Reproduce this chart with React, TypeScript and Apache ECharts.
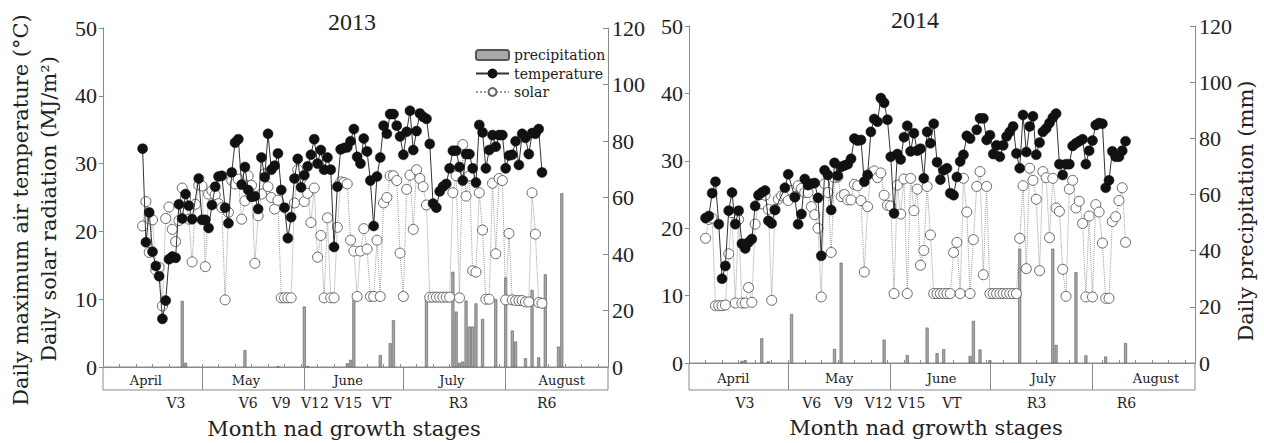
import React, { useEffect, useRef } from "react";
import * as echarts from "echarts";

const DAY_MAX = 153;
const monthNames = ["April", "May", "June", "July", "August"];
const monthEdges = [30, 61, 91, 122];
const monthLabelDays13 = [13, 43.3, 74.3, 105.7, 139];
const monthLabelDays14 = [13.4, 45.4, 76.4, 107.1, 141.2];
const stageNames = ["V3", "V6", "V9", "V12", "V15", "VT", "R3", "R6"];
const stageDays13 = [22.1, 44, 54, 64.2, 74.3, 84.4, 107.7, 134.4];
const stageDays14 = [16.9, 37.1, 46.7, 57.3, 67.3, 79.5, 105.1, 132.3];
const leftTicks = [0, 10, 20, 30, 40, 50];
const rightTicks = [0, 20, 40, 60, 80, 100, 120];

// 2013 (day 0 = 1 April)
const tempStart13 = 12;
const temp13 = [
  32.2, 18.4, 22.8, 17.0, 14.9, 13.4, 7.1, 9.8, 15.9, 16.3,
  16.1, 24.0, 21.9, 25.5, 23.8, 21.8, null, 27.8, 21.7, 21.7,
  20.5, 23.9, 26.6, 28.1, 28.2, 23.5, 21.2, 28.7, 33.1, 33.6,
  26.9, 29.5, 26.1, 25.1, 25.2, 23.3, 30.9, 28.0, 34.4, 29.1,
  29.7, 31.5, 26.1, 23.5, 19.0, 22.1, 27.8, 30.7, 26.5, 28.3,
  29.6, 31.3, 33.6, 30.0, 32.0, 29.1, 30.9, 29.1, 17.7, 26.6,
  32.1, 32.3, 32.4, 33.3, 35.1, 31.0, 30.0, 33.7, 31.8, 27.5,
  20.8, 28.1, 30.9, 35.6, 34.4, 37.3, 37.3, 35.6, 34.0, 31.3,
  34.7, 37.8, 32.0, 34.8, 37.4, 36.9, 36.6, 32.9, 24.1, 23.5,
  25.9, 26.6, 27.0, 29.3, 31.9, 31.9, 29.5, 27.5, 31.4, 31.4,
  29.3, 27.2, 35.7, 34.6, 29.3, 32.0, 34.2, 32.5, 34.2, 34.2,
  29.3, 31.2, 31.3, 33.3, 29.8, 34.4, 33.8, 31.4, 34.5, 34.4,
  35.1, 28.7,
];
const solarStart13 = 12;
const solar13 = [
  20.8, 24.4, 16.9, 21.7, 14.3, 14.7, 9.0, 21.9, 23.6, 20.3,
  18.5, 21.6, 26.4, 24.9, 21.8, 15.5, 24.0, 26.8, 26.7, 14.8,
  25.5, 26.0, 25.4, 24.1, 23.5, 9.9, 22.8, 27.5, 27.0, 27.7,
  21.8, 24.5, 28.2, 26.8, 15.3, 22.3, 25.5, 28.5, 26.6, 25.0,
  23.3, 24.6, 10.2, 10.2, 10.2, 10.2, 24.2, 29.1, 27.7, 24.4,
  25.6, 21.3, 26.4, 16.2, 19.4, 10.2, 22.0, 10.2, 10.2, 20.6,
  27.3, 27.2, 27.0, 18.7, 17.1, 10.4, 17.1, 20.4, 17.4, 10.4,
  10.4, 18.7, 10.4, 24.2, 25.0, 28.2, 28.2, 27.5, 16.8, 10.4,
  26.2, 28.3, 20.3, 29.1, 27.8, 26.6, 23.9, 10.3, 10.3, 10.3,
  10.3, 10.3, 10.3, 10.3, 25.7, 28.2, 10.2, 32.8, 25.2, 28.2,
  14.2, 14.0, 25.7, 20.2, 10.0, 10.0, 27.1, 16.7, 27.8, 27.5,
  9.9, 19.7, 9.9, 9.8, 9.8, 9.8, 9.6, 9.6, 25.7, 19.6,
  9.5, 9.4,
];
const precipDays13 = [24, 25, 43, 53, 61, 62, 74, 75, 76, 84, 87, 88, 98, 106, 107, 108, 109, 110, 111, 112, 113, 115, 119, 122, 124, 125, 128, 130, 132, 134, 138, 139];
const precipMm13 = [23.4, 1.5, 6.0, 0.3, 21.4, 0.3, 1.3, 2.5, 23.7, 4.2, 8.4, 16.6, 24.3, 33.7, 19.6, 1.5, 1.9, 23.5, 14.3, 14.3, 22.5, 17.0, 24.0, 31.7, 12.9, 9.0, 3.1, 27.3, 3.4, 32.8, 7.2, 61.5];

// 2014
const tempStart14 = 5;
const temp14 = [
  21.5, 21.8, 25.2, 26.9, 20.6, 12.5, 14.4, 22.6, 25.3, 20.6,
  22.6, 17.7, 17.0, 17.9, 18.4, 23.3, 24.9, 25.3, 25.6, 21.1,
  20.7, 22.7, null, null, 26.0, 28.0, null, 24.6, 20.6, 22.1,
  27.3, 26.4, 26.6, 26.7, 24.5, 15.9, 28.6, 27.9, 22.7, 29.7,
  27.8, 29.1, 29.3, 29.5, 30.3, 33.3, 33.0, 33.1, 26.9, 27.9,
  34.3, 36.2, 35.8, 39.3, 38.6, 36.1, 30.6, 22.2, 31.0, 30.2,
  33.5, 35.2, 31.4, 34.1, 31.5, 31.8, 27.4, 34.3, 32.6, 35.5,
  29.8, 27.2, 28.6, 28.9, 25.2, 24.9, 27.6, 29.9, 30.9, 33.7,
  33.3, null, 34.6, 36.3, 36.3, 33.1, 33.8, 31.0, 32.3, 30.6,
  32.3, 33.6, 34.3, 35.1, 31.1, 28.9, 36.8, 31.3, 35.1, 36.6,
  30.9, 32.7, 34.3, 34.8, 35.6, 36.4, 37.0, 29.5, 27.9, 29.5,
  29.5, 32.2, 32.6, 32.9, 33.2, 29.5, 31.5, 33.0, 35.3, 35.6,
  35.5, 26.0, 27.1, 31.4, 30.6, 30.6, 31.5, 32.9,
];
const solarStart14 = 5;
const solar14 = [
  18.5, 21.3, 21.5, 8.5, 8.5, 8.5, 8.6, 16.2, 22.3, 8.9,
  21.3, 8.9, 8.9, 11.2, 9.0, 20.6, 23.6, 23.6, 24.9, 22.8,
  9.3, 22.8, 24.3, 24.8, 24.9, 24.1, 25.6, 24.7, 26.3, 25.9,
  25.3, 25.3, 23.2, 22.0, 20.0, 9.8, 26.6, 25.3, 16.4, 27.5,
  27.6, 24.7, 25.0, 24.2, 24.2, 26.5, 26.3, 24.1, 13.5, 23.2,
  28.2, 28.5, 27.5, 28.2, 24.9, 23.4, 23.3, 10.3, 26.4, 22.1,
  27.3, 10.3, 27.4, 22.6, 25.8, 14.5, 16.7, 26.2, 19.0, 10.3,
  10.3, 10.3, 10.3, 10.3, 10.3, 16.4, 17.9, 10.3, 27.4, 22.4,
  10.3, 18.3, 26.2, 28.4, 13.1, 26.2, 10.3, 10.3, 10.3, 10.3,
  10.3, 10.3, 10.3, 10.3, 10.3, 18.5, 26.3, 14.0, 28.9, 27.1,
  24.3, 13.7, 28.4, 27.5, 18.6, 27.4, 23.0, 22.5, 13.9, 9.9,
  25.8, 27.1, 23.0, 24.0, 20.7, 9.8, 21.8, 9.8, 23.5, 22.4,
  17.8, 9.6, 9.6, 21.0, 21.7, 24.1, 26.0, 17.9,
];
const precipDays14 = [16, 17, 22, 24, 31, 44, 46, 59, 66, 72, 75, 77, 85, 86, 88, 91, 100, 110, 111, 117, 120, 126, 132];
const precipMm14 = [0.7, 1.0, 8.8, 0.6, 17.4, 5.0, 35.7, 8.3, 2.8, 12.6, 3.5, 4.9, 2.5, 15.0, 4.8, 1.0, 40.7, 40.7, 6.4, 32.3, 2.7, 2.3, 7.1];

const WORD_FONT = "DejaVu Serif";
const NUM_FONT = "Liberation Serif";
const AXIS_COLOR = "#8a8a8a";
const TEXT_COLOR = "#222";

function daily(start: number, vals: (number | null)[]) {
  const out: [number, number][] = [];
  vals.forEach((v, i) => {
    if (v !== null) out.push([start + i, v]);
  });
  return out;
}
function pairs(days: number[], vals: number[]) {
  return days.map((d, i) => [d, vals[i]]);
}
function lookup(days: number[], names: string[]) {
  return (v: number) => {
    const i = days.findIndex((d) => Math.abs(d - v) < 1e-6);
    return i >= 0 ? names[i] : "";
  };
}

function mainX(g: number) {
  return {
    type: "value", gridIndex: g, min: 0, max: DAY_MAX, interval: 5,
    axisLine: { show: true, lineStyle: { color: AXIS_COLOR, width: 1 } },
    axisTick: { show: true, inside: true, length: 3, lineStyle: { color: AXIS_COLOR } },
    axisLabel: { show: false }, splitLine: { show: false },
  };
}
function bandTickX(g: number, h: number) {
  return {
    type: "value", gridIndex: g, min: 0, max: DAY_MAX, position: "bottom",
    axisLine: { show: false },
    axisTick: { show: true, inside: true, length: h, customValues: monthEdges, lineStyle: { color: AXIS_COLOR } },
    axisLabel: { show: false }, splitLine: { show: false },
  };
}
function bandMonthX(g: number, days: number[], margin: number) {
  return {
    type: "value", gridIndex: g, min: 0, max: DAY_MAX, position: "top",
    axisLine: { show: false }, axisTick: { show: false }, splitLine: { show: false },
    axisLabel: {
      show: true, inside: true, interval: 0, customValues: days, margin,
      formatter: lookup(days, monthNames), fontFamily: WORD_FONT, fontSize: 13, color: TEXT_COLOR,
    },
  };
}
function stageX(g: number, days: number[]) {
  return {
    type: "value", gridIndex: g, min: 0, max: DAY_MAX, position: "bottom",
    axisLine: { show: false }, axisTick: { show: false }, splitLine: { show: false },
    axisLabel: {
      show: true, interval: 0, customValues: days, margin: 6,
      formatter: lookup(days, stageNames), fontFamily: WORD_FONT, fontSize: 14, color: TEXT_COLOR,
    },
  };
}
function leftY(g: number) {
  return {
    type: "value", gridIndex: g, position: "left", min: leftTicks[0], max: leftTicks[leftTicks.length - 1], interval: 10,
    axisLine: { show: true, lineStyle: { color: AXIS_COLOR } },
    axisTick: { show: true, length: 4, lineStyle: { color: AXIS_COLOR } },
    axisLabel: { margin: 6, fontFamily: NUM_FONT, fontSize: 22, color: TEXT_COLOR },
    splitLine: { show: false },
  };
}
function rightY(g: number) {
  return {
    type: "value", gridIndex: g, position: "right", min: rightTicks[0], max: rightTicks[rightTicks.length - 1], interval: 20,
    axisLine: { show: true, lineStyle: { color: AXIS_COLOR } },
    axisTick: { show: true, inside: true, length: 5, lineStyle: { color: AXIS_COLOR } },
    axisLabel: { margin: 4, fontFamily: NUM_FONT, fontSize: 22, color: TEXT_COLOR },
    splitLine: { show: false },
  };
}
function bandY(g: number) {
  return { type: "value", gridIndex: g, min: 0, max: 1, show: false };
}

function seriesFor(xi: number, yl: number, yr: number, pd: number[], pm: number[], ts: number, tv: (number | null)[], ss: number, sv: (number | null)[]) {
  return [
    {
      name: "precipitation", type: "bar", xAxisIndex: xi, yAxisIndex: yr,
      data: pairs(pd, pm), barWidth: 3, z: 2,
      itemStyle: { color: "#a9a9a9", borderColor: "#555", borderWidth: 0.6 },
    },
    {
      name: "solar", type: "line", xAxisIndex: xi, yAxisIndex: yl,
      data: daily(ss, sv), symbol: "circle", symbolSize: 10, showAllSymbol: true, z: 3,
      lineStyle: { color: "#9a9a9a", width: 1, type: "dotted" },
      itemStyle: { color: "#ffffff", borderColor: "#666", borderWidth: 1 },
    },
    {
      name: "temperature", type: "line", xAxisIndex: xi, yAxisIndex: yl,
      data: daily(ts, tv), symbol: "circle", symbolSize: 10, showAllSymbol: true, z: 4,
      lineStyle: { color: "#333", width: 1 },
      itemStyle: { color: "#111", borderColor: "#111", borderWidth: 0.5 },
    },
  ];
}

export default function App() {
  const ref = useRef<HTMLDivElement>(null);
  useEffect(() => {
    document.body.style.margin = "0";
    if (!ref.current) return;
    const chart = echarts.init(ref.current, undefined, { renderer: "svg" });
    const option: any = {
      animation: false,
      backgroundColor: "#ffffff",
      grid: [
        { left: 103, top: 28, width: 505, height: 339 },
        { left: 103, top: 367, width: 505, height: 23, show: true, borderColor: AXIS_COLOR, borderWidth: 1 },
        { left: 689, top: 26, width: 506, height: 337 },
        { left: 689, top: 363, width: 506, height: 27, show: true, borderColor: AXIS_COLOR, borderWidth: 1 },
      ],
      xAxis: [
        mainX(0), bandTickX(1, 23), bandMonthX(1, monthLabelDays13, 7), stageX(1, stageDays13),
        mainX(2), bandTickX(3, 27), bandMonthX(3, monthLabelDays14, 9), stageX(3, stageDays14),
      ],
      yAxis: [leftY(0), rightY(0), bandY(1), leftY(2), rightY(2), bandY(3)],
      legend: {
        data: ["precipitation", "temperature", "solar"],
        orient: "vertical", left: 475, top: 47, padding: 0,
        itemWidth: 33, itemHeight: 10, itemGap: 2.5, selectedMode: false,
        textStyle: { fontFamily: WORD_FONT, fontSize: 14, color: TEXT_COLOR, lineHeight: 16 },
      },
      graphic: [
        { type: "text", x: 352, y: 22, style: { text: "2013", font: `24px '${NUM_FONT}'`, fill: TEXT_COLOR, textAlign: "center", textVerticalAlign: "middle" } },
        { type: "text", x: 915, y: 20, style: { text: "2014", font: `24px '${NUM_FONT}'`, fill: TEXT_COLOR, textAlign: "center", textVerticalAlign: "middle" } },
        { type: "text", x: 21, y: 210, rotation: Math.PI / 2, style: { text: "Daily maximum air temperature (°C)", font: `21px '${WORD_FONT}'`, fill: TEXT_COLOR, textAlign: "center", textVerticalAlign: "middle" } },
        { type: "text", x: 49, y: 209, rotation: Math.PI / 2, style: { text: "Daily solar radiation (MJ/m²)", font: `21px '${WORD_FONT}'`, fill: TEXT_COLOR, textAlign: "center", textVerticalAlign: "middle" } },
        { type: "text", x: 1246, y: 211, rotation: Math.PI / 2, style: { text: "Daily precipitation (mm)", font: `21px '${WORD_FONT}'`, fill: TEXT_COLOR, textAlign: "center", textVerticalAlign: "middle" } },
        { type: "text", x: 344, y: 429, style: { text: "Month nad growth stages", font: `21px '${WORD_FONT}'`, fill: TEXT_COLOR, textAlign: "center", textVerticalAlign: "middle" } },
        { type: "text", x: 926, y: 428, style: { text: "Month nad growth stages", font: `21px '${WORD_FONT}'`, fill: TEXT_COLOR, textAlign: "center", textVerticalAlign: "middle" } },
      ],
      series: [
        ...seriesFor(0, 0, 1, precipDays13, precipMm13, tempStart13, temp13, solarStart13, solar13),
        ...seriesFor(4, 3, 4, precipDays14, precipMm14, tempStart14, temp14, solarStart14, solar14),
      ],
    };
    chart.setOption(option);
    return () => chart.dispose();
  }, []);
  return <div ref={ref} style={{ width: 1264, height: 443 }} />;
}
